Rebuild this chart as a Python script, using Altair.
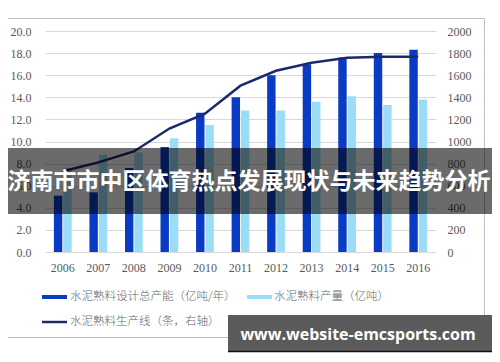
import altair as alt
import pandas as pd

years = ["2006", "2007", "2008", "2009", "2010", "2011", "2012", "2013", "2014", "2015", "2016"]
capacity = [5.1, 5.4, 7.6, 9.5, 12.6, 14.0, 16.0, 17.0, 17.6, 18.0, 18.3]
output = [7.6, 8.8, 9.0, 10.3, 11.5, 12.8, 12.8, 13.6, 14.1, 13.3, 13.8]
lines_count = [730, 811, 910, 1117, 1252, 1505, 1640, 1712, 1757, 1766, 1766]

s_cap = "水泥熟料设计总产能（亿吨/年）"
s_out = "水泥熟料产量（亿吨）"
s_line = "水泥熟料生产线（条，右轴）"
banner_text = "济南市市中区体育热点发展现状与未来趋势分析"
watermark_text = "www.website-emcsports.com"

C_CAP = "#0A3BC4"
C_OUT = "#9BDDF7"
C_LINE = "#1B2A6B"

bars_df = pd.DataFrame(
    [{"year": y, "series": s_cap, "value": v} for y, v in zip(years, capacity)]
    + [{"year": y, "series": s_out, "value": v} for y, v in zip(years, output)]
)
line_df = pd.DataFrame({"year": years, "count": lines_count})
one = pd.DataFrame({"a": [0]})

x_enc = alt.X(
    "year:N",
    sort=years,
    scale=alt.Scale(paddingInner=0.5, paddingOuter=0.25),
    axis=alt.Axis(title=None, labelAngle=0, ticks=False, domain=False,
                  labelFont="Liberation Serif", labelFontSize=12,
                  labelColor="#595959", labelPadding=10),
)

bars = alt.Chart(bars_df).mark_bar().encode(
    x=x_enc,
    xOffset=alt.XOffset("series:N", sort=[s_cap, s_out],
                        scale=alt.Scale(paddingInner=0.1)),
    y=alt.Y("value:Q", scale=alt.Scale(domain=[0, 20]),
            axis=alt.Axis(title=None, values=list(range(0, 21, 2)), format=".1f",
                          ticks=False, domain=False, grid=True, gridColor="#D9D9D9",
                          labelFont="Liberation Serif", labelFontSize=12,
                          labelColor="#595959", labelPadding=14)),
    color=alt.Color("series:N", scale=alt.Scale(domain=[s_cap, s_out], range=[C_CAP, C_OUT]),
                    legend=None),
)

line = alt.Chart(line_df).mark_line(color=C_LINE, strokeWidth=2.5).encode(
    x=alt.X("year:N", sort=years),
    y=alt.Y("count:Q", scale=alt.Scale(domain=[0, 2000]),
            axis=alt.Axis(title=None, orient="right", values=list(range(0, 2001, 200)),
                          format="d",
                          ticks=False, domain=False, grid=False,
                          labelFont="Liberation Serif", labelFontSize=12,
                          labelColor="#595959", labelPadding=11)),
)

border = alt.Chart(one).mark_rect(fill="white", fillOpacity=0, stroke="#BFBFBF", strokeWidth=1).encode(
    x=alt.value(-37.5), x2=alt.value(439.5), y=alt.value(-12.5), y2=alt.value(306.5)
)

leg_font = dict(font="Noto Sans CJK SC", fontSize=11.5, fontWeight=300, color="#666666",
                align="left", baseline="middle")
leg1_sw = alt.Chart(one).mark_rect(color=C_CAP).encode(
    x=alt.value(-3), x2=alt.value(22), y=alt.value(264), y2=alt.value(268))
leg1_tx = alt.Chart(one).mark_text(**leg_font).encode(
    x=alt.value(25), y=alt.value(266), text=alt.value(s_cap))
leg2_sw = alt.Chart(one).mark_rect(color=C_OUT).encode(
    x=alt.value(202), x2=alt.value(227), y=alt.value(264), y2=alt.value(268))
leg2_tx = alt.Chart(one).mark_text(**leg_font).encode(
    x=alt.value(229), y=alt.value(266), text=alt.value(s_out))
leg3_sw = alt.Chart(one).mark_rule(color=C_LINE, strokeWidth=2.5).encode(
    x=alt.value(-3), x2=alt.value(22), y=alt.value(291))
leg3_tx = alt.Chart(one).mark_text(**leg_font).encode(
    x=alt.value(25), y=alt.value(291), text=alt.value(s_line))

banner = alt.Chart(one).mark_rect(color="black", opacity=0.58).encode(
    x=alt.value(-40), x2=alt.value(450), y=alt.value(117), y2=alt.value(183))
banner_tx = alt.Chart(one).mark_text(font="Noto Sans CJK SC", fontSize=23, fontWeight="bold",
                                     color="white", align="center", baseline="middle").encode(
    x=alt.value(204), y=alt.value(151), text=alt.value(banner_text))

wm_box = alt.Chart(one).mark_rect(color="#5B5B5B").encode(
    x=alt.value(183), x2=alt.value(447), y=alt.value(284), y2=alt.value(320))
wm_line = alt.Chart(one).mark_rule(color="#111111", strokeWidth=1.5).encode(
    x=alt.value(183), x2=alt.value(447), y=alt.value(320.5))
wm_tx = alt.Chart(one).mark_text(font="Open Sans", fontSize=16, fontWeight="bold",
                                 color="white", align="center", baseline="middle").encode(
    x=alt.value(313), y=alt.value(304), text=alt.value(watermark_text))

chart = alt.layer(
    border, bars, line, leg1_sw, leg1_tx, leg2_sw, leg2_tx, leg3_sw, leg3_tx,
    banner, banner_tx, wm_box, wm_line, wm_tx
).resolve_scale(y="independent").properties(
    width=391, height=221,
    autosize=alt.AutoSizeParams(type="none"),
    padding={"left": 37, "top": 23, "right": 56, "bottom": 102},
    background="white",
).configure_view(stroke=None)

chart.save("out.html", embed_options={"renderer": "svg", "actions": False})
